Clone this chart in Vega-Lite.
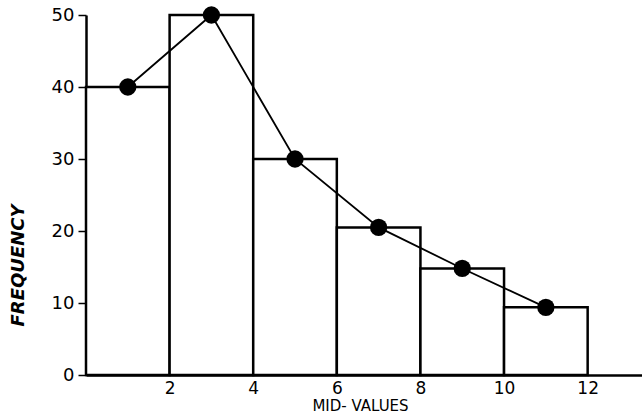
{
  "$schema": "https://vega.github.io/schema/vega-lite/v6.json",
  "width": 556,
  "height": 360,
  "autosize": {"type": "none"},
  "padding": {"left": 86, "top": 15, "right": 0, "bottom": 40},
  "background": "white",
  "config": {
    "view": {"stroke": null},
    "axis": {"grid": false, "domainColor": "black", "tickColor": "black", "labelColor": "black", "titleColor": "black", "labelFont": "DejaVu Sans", "titleFont": "DejaVu Sans"}
  },
  "data": {
    "values": [
      {"lo": 0, "hi": 2, "mid": 1, "freq": 40},
      {"lo": 2, "hi": 4, "mid": 3, "freq": 50},
      {"lo": 4, "hi": 6, "mid": 5, "freq": 30},
      {"lo": 6, "hi": 8, "mid": 7, "freq": 20.5},
      {"lo": 8, "hi": 10, "mid": 9, "freq": 14.8},
      {"lo": 10, "hi": 12, "mid": 11, "freq": 9.4}
    ]
  },
  "layer": [
    {
      "mark": {"type": "bar", "fill": "white", "stroke": "black", "strokeWidth": 2.5},
      "encoding": {
        "x": {
          "field": "lo", "type": "quantitative",
          "scale": {"domain": [0, 13.3], "nice": false, "zero": false},
          "axis": {
            "values": [2, 4, 6, 8, 10, 12],
            "ticks": false,
            "domainWidth": 2.5,
            "labelFontSize": 17,
            "labelPadding": 5,
            "title": "MID- VALUES",
            "titleFontSize": 15,
            "titleFontWeight": "normal",
            "titleX": 274,
            "titleY": 35,
            "titleBaseline": "alphabetic",
            "titleAlign": "center"
          }
        },
        "x2": {"field": "hi"},
        "y": {
          "field": "freq", "type": "quantitative",
          "scale": {"domain": [0, 50], "nice": false},
          "axis": {
            "values": [0, 10, 20, 30, 40, 50],
            "tickSize": 8,
            "tickWidth": 1.5,
            "domainWidth": 2.5,
            "labelFontSize": 18,
            "labelPadding": 4,
            "labelBaseline": "middle",
            "title": "FREQUENCY",
            "titleFontSize": 18,
            "titleFontWeight": "bold",
            "titleFontStyle": "italic",
            "titleAngle": -90,
            "titleX": -68,
            "titleY": 250,
            "titleAlign": "center",
            "titleBaseline": "middle"
          }
        },
        "y2": {"datum": 0}
      }
    },
    {
      "mark": {"type": "line", "color": "black", "strokeWidth": 1.8, "point": {"filled": true, "color": "black", "size": 300}},
      "encoding": {
        "x": {"field": "mid", "type": "quantitative"},
        "y": {"field": "freq", "type": "quantitative"}
      }
    }
  ]
}
